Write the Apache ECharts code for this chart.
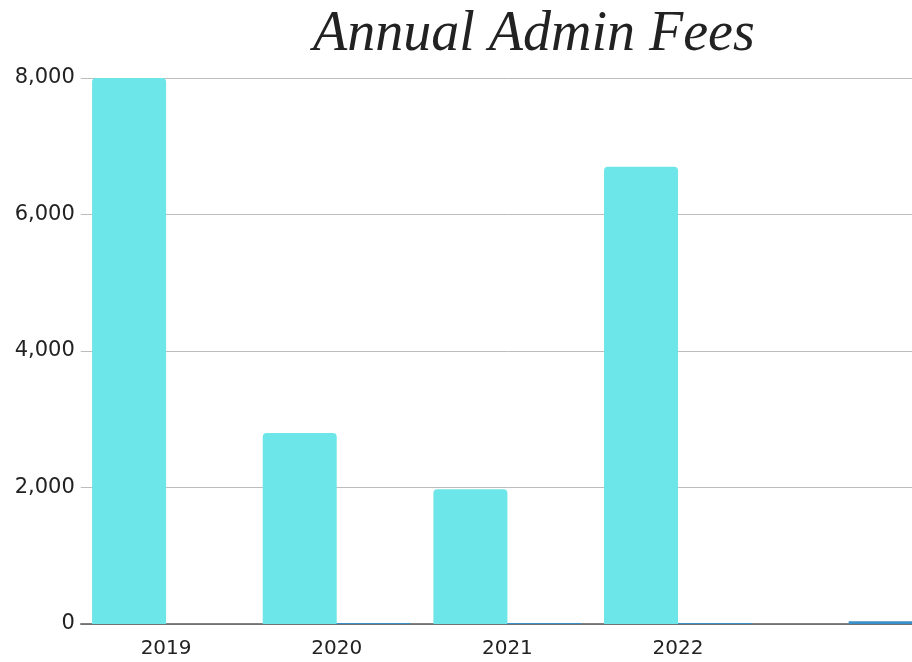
<!DOCTYPE html>
<html>
<head>
<meta charset="utf-8">
<script src="https://cdn.jsdelivr.net/npm/echarts@6/dist/echarts.min.js"></script>
<style>
  html, body { margin: 0; padding: 0; background: #fff; overflow: hidden; }
  /* plot runs past the right edge in the original, so the canvas is a bit wider than the window */
  #chart { width: 934px; height: 662px; }
</style>
</head>
<body>
<div id="chart"></div>
<script>
// categories + values
var years = ['2019', '2020', '2021', '2022', ''];
var adminFees = [8000, 2800, 1975, 6700, null];
var otherFees = [0, 15, 15, 15, 40];   // tiny blue bars sitting on the axis
var yTicks = [0, 2000, 4000, 6000, 8000];

var cyan = '#6ce6e8';
var blue = '#3a8fc9';

var myChart = echarts.init(document.getElementById('chart'));

var option = {
    backgroundColor: '#fff',
    title: {
        text: 'Annual Admin Fees',
        left: 308,
        top: 2,
        textStyle: {
            fontFamily: 'Liberation Serif',
            fontStyle: 'italic',
            fontWeight: 'normal',
            fontSize: 56,
            color: '#222'
        }
    },
    grid: {
        left: 80.75,
        right: 0,
        top: 78,
        bottom: 38,
        containLabel: false
    },
    xAxis: {
        type: 'category',
        data: years,
        axisTick: { show: false },
        axisLine: {
            lineStyle: { color: '#5a5a5a', width: 1.5 }
        },
        axisLabel: {
            margin: 15,
            color: '#222',
            fontFamily: 'DejaVu Sans',
            fontSize: 20
        }
    },
    yAxis: {
        type: 'value',
        min: yTicks[0],
        max: yTicks[yTicks.length - 1],
        interval: 2000,
        axisLine: { show: false },
        axisTick: { show: false },
        axisLabel: {
            margin: 6,
            color: '#222',
            fontFamily: 'DejaVu Sans',
            fontSize: 21,
            formatter: function (v) {
                return v.toLocaleString('en-US');
            }
        },
        splitLine: {
            lineStyle: { color: '#bdbdbd', width: 1 }
        }
    },
    series: [{
        name: 'Admin Fees',
        type: 'bar',
        data: adminFees,
        barWidth: 74,
        barGap: 0,
        itemStyle: { color: cyan, borderRadius: [4, 4, 0, 0] }
    }, {
        name: 'Other',
        type: 'bar',
        data: otherFees,
        barWidth: 74,
        itemStyle: { color: blue }
    }]
};

myChart.setOption(option);
</script>
</body>
</html>
